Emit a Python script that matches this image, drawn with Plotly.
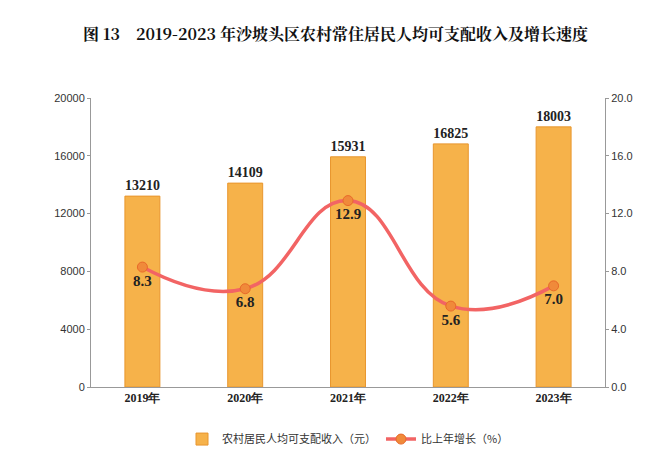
import plotly.graph_objects as go

years = ["2019年", "2020年", "2021年", "2022年", "2023年"]
income = [13210, 14109, 15931, 16825, 18003]
growth = [8.3, 6.8, 12.9, 5.6, 7.0]

fig = go.Figure()
fig.add_trace(go.Bar(x=years, y=income, name="农村居民人均可支配收入（元）",
    marker=dict(color="#F6B24A", line=dict(color="#E8962E", width=1)), width=0.34,
    text=[f"<b>{v}</b>" for v in income], textposition="outside",
    textfont=dict(family="Liberation Serif", size=17, color="#222"), cliponaxis=False))
fig.add_trace(go.Scatter(x=years, y=growth, name="比上年增长（%）", yaxis="y2",
    mode="lines+markers+text", line=dict(color="#F26464", width=3.5, shape="spline", smoothing=1.3),
    marker=dict(color="#F08A3A", size=10, line=dict(color="#E86A2A", width=1)),
    text=[f"<b>{v:.1f}</b>" for v in growth], textposition="bottom center",
    textfont=dict(family="Liberation Serif", size=15, color="#222")))

fig.update_layout(
    width=655, height=461, plot_bgcolor="white", paper_bgcolor="white",
    margin=dict(l=83, r=58, t=90, b=82),
    title=dict(text="<b>图 13    2019-2023 年沙坡头区农村常住居民人均可支配收入及增长速度</b>",
               x=0.5, y=0.955, xanchor="center", font=dict(family="Noto Serif CJK SC, Noto Sans CJK SC", size=16, color="#111")),
    xaxis=dict(showline=True, linecolor="#999", tickfont=dict(family="Liberation Serif", size=12, color="#222"),
               ticks="", tickprefix="<b>", ticksuffix="</b>"),
    yaxis=dict(range=[0, 20000], dtick=4000, tickformat="d", showgrid=False, showline=True, linecolor="#999",
               tickfont=dict(family="Liberation Sans", size=11, color="#333"), ticks="outside", ticklen=3, tickcolor="#999"),
    yaxis2=dict(range=[0, 20], dtick=4, tickformat=".1f", overlaying="y", side="right", showgrid=False,
                showline=True, linecolor="#999", tickfont=dict(family="Liberation Sans", size=11, color="#333"),
                ticks="outside", ticklen=3, tickcolor="#999"),
    legend=dict(orientation="h", x=0.5, xanchor="center", y=-0.13, yanchor="top",
                font=dict(family="Noto Sans CJK SC", size=11, color="#333")),
    showlegend=True,
)
fig.write_html("out.html")
